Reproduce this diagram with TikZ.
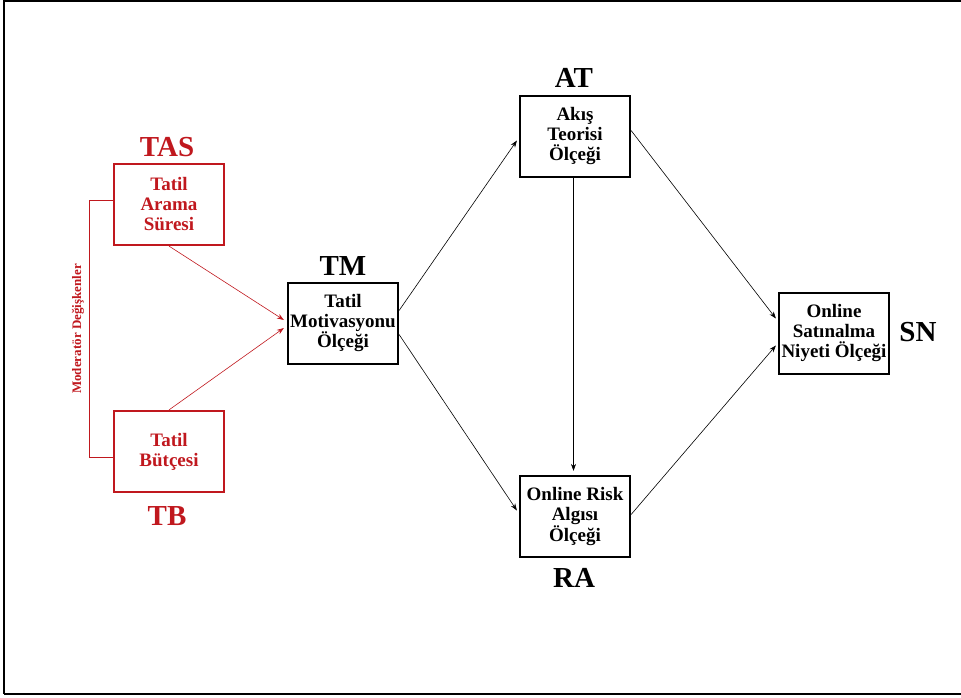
\documentclass[tikz,border=0pt]{standalone}
\usepackage{fontspec}
\setmainfont{Liberation Serif}
\usetikzlibrary{arrows.meta,calc}
\definecolor{modred}{RGB}{192,24,30}

\begin{document}
\begin{tikzpicture}[x=1pt,y=-1pt,
  box/.style={draw, line width=2.2pt, minimum width=110pt, minimum height=81pt,
    inner sep=1pt, align=center, font=\bfseries\fontsize{19}{20}\selectfont},
  redbox/.style={box, draw=modred, text=modred},
  tag/.style={font=\bfseries\fontsize{29}{32}\selectfont},
  link/.style={-{Stealth[length=7pt,width=5pt]}, line width=0.6pt},
  redlink/.style={link, draw=modred}
]
\useasboundingbox (0,0) rectangle (961,698);
% outer frame (open on the right)
\draw[line width=1.8pt] (961,1) -- (4,1) -- (4,694);
\draw[line width=2.8pt] (4,694) -- (961,694);

% moderator boxes
\node[redbox] (tas) at (169,204.5) {Tatil\\Arama\\Süresi};
\node[redbox] (tb)  at (169,451.5) {Tatil\\Bütçesi};
\node[tag, text=modred] (tasl) at (167,147) {TAS};
\node[tag, text=modred] (tbl)  at (167,516) {TB};

% scales
\node[box] (tm) at (343,323.5) {Tatil\\Motivasyonu\\Ölçeği};
\node[box] (at) at (575,136.5) {Akış\\Teorisi\\Ölçeği};
\node[box] (ra) at (575,516.5) {Online Risk\\Algısı\\Ölçeği};
\node[box] (sn) at (834,333.5) {Online\\Satınalma\\Niyeti Ölçeği};

\node[tag] (tml) at (343,266) {TM};
\node[tag] (atl) at (574,78) {AT};
\node[tag] (ral) at (574,578) {RA};
\node[tag] (snl) at (918,332) {SN};

% moderator bracket
\coordinate (bt) at (89,200);
\coordinate (bb) at (89,457);
\draw[modred, line width=0.7pt] (tas.west |- bt) -- (bt) -- (bb) -- (tb.west |- bb);
\node[text=modred, rotate=90, font=\bfseries\fontsize{13}{15}\selectfont] (modl) at (78,329) {Moderatör Değişkenler};

% moderator paths
\draw[redlink] (tas.south) -- ($(tm.west)+(-3,-3.5)$);
\draw[redlink] (tb.north) -- ($(tm.west)+(-3,4.5)$);

% structural paths
\draw[link] ($(tm.east)+(0,-13)$) -- ($(at.west)+(-2,4)$);
\draw[link] ($(tm.east)+(0,11)$) -- ($(ra.west)+(-2,-6)$);
\draw[link] ($(at.south)+(-1.5,0)$) -- ($(ra.north)+(-1.5,-4)$);
\draw[link] ($(at.east)+(0,-6)$) -- ($(sn.west)+(-2,-15)$);
\draw[link] ($(ra.east)+(0,-2)$) -- ($(sn.west)+(-2,12)$);
\end{tikzpicture}
\end{document}
